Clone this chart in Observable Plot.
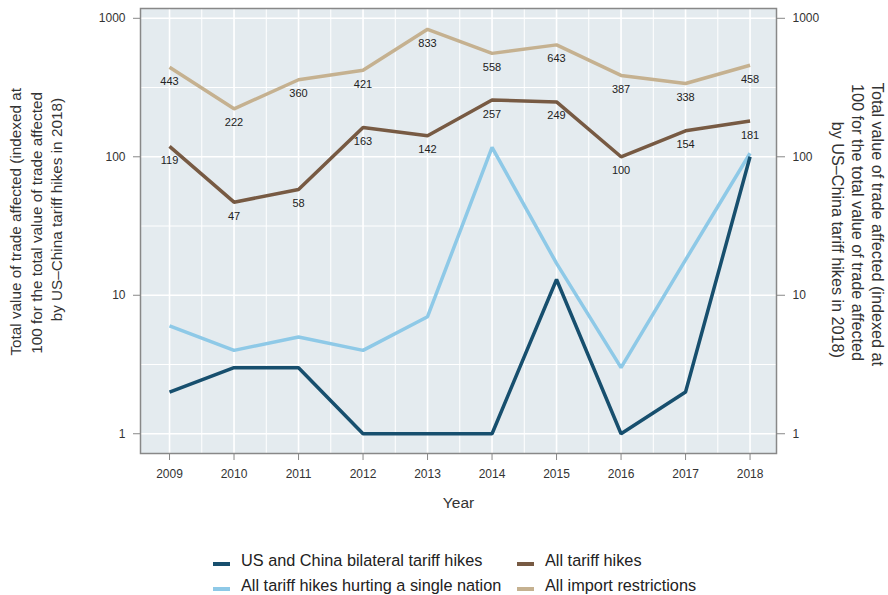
<!DOCTYPE html>
<html>
<head>
<meta charset="utf-8">
<script src="https://cdn.jsdelivr.net/npm/d3@7"></script>
<script src="https://cdn.jsdelivr.net/npm/@observablehq/plot@0.6"></script>
<style>
  html, body { margin: 0; padding: 0; background: #ffffff; }
  #wrap { position: relative; width: 888px; height: 595px; font-family: "Liberation Sans", Arial, Helvetica, sans-serif; }
  #chart svg { display: block; }
  .leg { position: absolute; font-size: 16.3px; color: #222; line-height: 18px; white-space: nowrap; }
  .sw { position: absolute; width: 17px; height: 3.5px; }
</style>
</head>
<body>
<div id="wrap">
  <div id="chart"></div>
</div>
<script>
// ---- data ----
const years = [2009, 2010, 2011, 2012, 2013, 2014, 2015, 2016, 2017, 2018];
const usChinaBilateral = [2, 3, 3, 1, 1, 1, 13, 1, 2, 100];
const singleNation = [6, 4, 5, 4, 7, 117, 17, 3, 18, 106];
const allTariffHikes = [119, 47, 58, 163, 142, 257, 249, 100, 154, 181];
const allImportRestrictions = [443, 222, 360, 421, 833, 558, 643, 387, 338, 458];
const seriesNames = [
  "US and China bilateral tariff hikes",
  "All tariff hikes hurting a single nation",
  "All tariff hikes",
  "All import restrictions"
];
const seriesColors = ["#174f6e", "#8ec9e7", "#775a43", "#c5b190"];
const yTicks = [1, 10, 100, 1000];
const yMinor = [Math.sqrt(10), 10 * Math.sqrt(10), 100 * Math.sqrt(10)];
const xMinor = years.map(y => y + 0.5).concat([2008.5]);
const xLabel = "Year";
const yTitleLines = [
  "Total value of trade affected (indexed at",
  "100 for the total value of trade affected",
  "by US\u2013China tariff hikes in 2018)"
];

// long table (drawing order: tan, brown, light blue, dark blue)
const seriesValues = [usChinaBilateral, singleNation, allTariffHikes, allImportRestrictions];
const drawOrder = [3, 2, 1, 0];
const rows = [];
for (const i of drawOrder) {
  years.forEach((yr, j) => rows.push({year: yr, value: seriesValues[i][j], series: seriesNames[i]}));
}
const labelRows = rows.filter(d => d.series === seriesNames[2] || d.series === seriesNames[3]);

const font = "'Liberation Sans', Arial, Helvetica, sans-serif";

const chart = Plot.plot({
  width: 888,
  height: 540,
  marginLeft: 140,
  marginRight: 112,
  marginTop: 8,
  marginBottom: 87,
  style: {fontFamily: font, fontSize: "12px", background: "white"},
  x: {domain: [2008.55, 2018.41]},
  y: {type: "log", domain: [0.72, 1177]},
  color: {domain: seriesNames, range: seriesColors},
  marks: [
    Plot.frame({fill: "#e4ebef", stroke: null}),
    Plot.ruleX(xMinor, {stroke: "white", strokeWidth: 1}),
    Plot.ruleX(years, {stroke: "white", strokeWidth: 1.6}),
    Plot.ruleY(yMinor, {stroke: "white", strokeWidth: 1}),
    Plot.ruleY(yTicks, {stroke: "white", strokeWidth: 1.6}),
    Plot.lineY(rows, {x: "year", y: "value", z: "series", stroke: "series", strokeWidth: 3.5, strokeLinejoin: "miter", strokeLinecap: "butt"}),
    Plot.text(labelRows, {x: "year", y: "value", text: d => String(d.value), dy: 14, fontSize: 11, fill: "#222"}),
    Plot.axisX({ticks: years, tickFormat: d => String(d), tickSize: 7, tickPadding: 9, stroke: "#888", fill: "#333", fontSize: 12, label: null}),
    Plot.axisY({anchor: "left", ticks: yTicks, tickFormat: d => String(d), tickSize: 7, tickPadding: 8, stroke: "#888", fill: "#333", fontSize: 12, label: null}),
    Plot.axisY({anchor: "right", ticks: yTicks, tickFormat: d => String(d), tickSize: 8, tickPadding: 8, stroke: "#888", fill: "#333", fontSize: 12, label: null}),
    Plot.frame({stroke: "#888", strokeWidth: 1.5}),
    Plot.text([xLabel], {frameAnchor: "bottom", dy: 54, text: d => d, fontSize: 15.5, fill: "#333"})
  ]
});
document.getElementById("chart").appendChild(chart);

// rotated axis titles (three lines each side), end-aligned as in the reference
const svg = d3.select(chart);
const leftPos = [[15.5, 88], [36, 92], [56.5, 98]];
const rightPos = [[878, 366], [858, 361], [837.5, 358]];
yTitleLines.forEach((line, i) => {
  svg.append("text")
    .attr("transform", `translate(${leftPos[i][0]},${leftPos[i][1]}) rotate(-90)`)
    .attr("text-anchor", "end").attr("dominant-baseline", "central")
    .attr("font-size", 15.3).attr("fill", "#333").attr("font-family", font)
    .text(line);
  svg.append("text")
    .attr("transform", `translate(${rightPos[i][0]},${rightPos[i][1]}) rotate(90)`)
    .attr("text-anchor", "end").attr("dominant-baseline", "central")
    .attr("font-size", 16.2).attr("fill", "#333").attr("font-family", font)
    .text(line);
});

// legend below the chart
const wrap = document.getElementById("wrap");
const legPos = [[213, 560], [213, 585], [517, 560], [517, 585]];
seriesNames.forEach((name, i) => {
  const sw = document.createElement("div");
  sw.className = "sw";
  sw.style.background = seriesColors[i];
  sw.style.left = legPos[i][0] + "px";
  sw.style.top = (legPos[i][1] + 2) + "px";
  wrap.appendChild(sw);
  const t = document.createElement("div");
  t.className = "leg";
  t.textContent = name;
  t.style.left = (legPos[i][0] + 28) + "px";
  t.style.top = (legPos[i][1] - 9) + "px";
  wrap.appendChild(t);
});
</script>
</body>
</html>
